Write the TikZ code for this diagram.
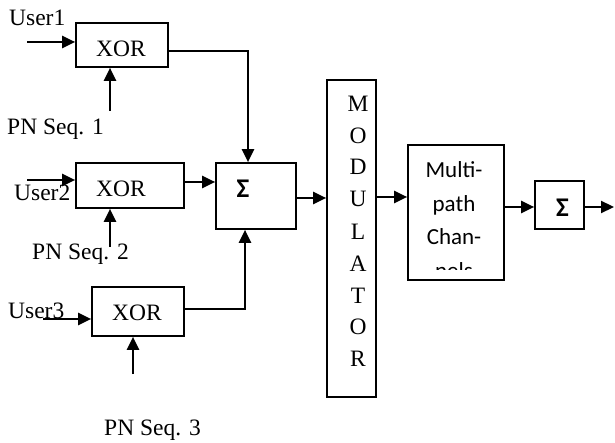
\documentclass[tikz,border=0pt]{standalone}
\usepackage{fontspec}
\setmainfont{Liberation Serif}
\newfontfamily\calibri{Carlito}
\usetikzlibrary{arrows.meta}
\begin{document}
\begin{tikzpicture}[x=1pt,y=-1pt,
  box/.style={draw,line width=1.7pt,inner sep=0pt,anchor=center},
  arr/.style={line width=2.2pt,-{Triangle[length=13pt,width=12pt]}},
  txt/.style={inner sep=0pt,anchor=base west,font=\fontsize{23.5}{28}\selectfont},
  ctxt/.style={inner sep=0pt,anchor=base,font=\calibri\fontsize{23}{28}\selectfont},
  sig/.style={inner sep=0pt,anchor=base,font=\calibri\bfseries\fontsize{27}{30}\selectfont},
  mtxt/.style={inner sep=0pt,anchor=base,font=\fontsize{23.5}{28}\selectfont}]
\useasboundingbox (0,0) rectangle (615,443);
% boxes
\node[box,minimum width=92pt,minimum height=44pt] (x1) at (122,45) {};
\node[box,minimum width=108pt,minimum height=45pt] (x2) at (130,185.5) {};
\node[box,minimum width=92pt,minimum height=49pt] (x3) at (138,311.5) {};
\node[box,minimum width=80pt,minimum height=66pt] (s1) at (256,196) {};
\node[box,minimum width=49pt,minimum height=317pt] (mod) at (351.5,238.5) {};
\node[box,minimum width=96pt,minimum height=135pt] (mp) at (456,212.5) {};
\node[box,minimum width=49pt,minimum height=48pt] (s2) at (559.5,205) {};
% texts
\node[txt] (tu1) at (9,26) {User1};
\node[txt] (tx1) at (96,56.5) {XOR};
\node[txt] (tp1) at (7,135) {PN Seq. 1};
\node[txt] (tu2) at (14,201) {User2};
\node[txt] (tx2) at (96,197) {XOR};
\node[txt] (tp2) at (32,260) {PN Seq. 2};
\node[txt] (tu3) at (8,318) {User3};
\node[txt] (tx3) at (112,320) {XOR};
\node[txt] (tp3) at (104,435) {PN Seq. 3};
\node[sig] (ts1) at (243,198) {Σ};
\node[sig] (ts2) at (562.5,217) {Σ};
\node[mtxt] (m1) at (358,112) {M};
\node[mtxt] (m2) at (358,143.5) {O};
\node[mtxt] (m3) at (358,175) {D};
\node[mtxt] (m4) at (358,207) {U};
\node[mtxt] (m5) at (358,240) {L};
\node[mtxt] (m6) at (358,272) {A};
\node[mtxt] (m7) at (358,303) {T};
\node[mtxt] (m8) at (358,334) {O};
\node[mtxt] (m9) at (358,366) {R};
\node[ctxt] (c1) at (454,178) {Multi-};
\node[ctxt] (c2) at (454,212) {path};
\node[ctxt] (c3) at (454,245) {Chan-};
\begin{scope}
\clip (409,146) rectangle (503,270);
\node[ctxt] (c4) at (454,279) {nels};
\end{scope}
% free ends
\coordinate (u1) at (27,42);
\coordinate (p1) at (110,111);
\coordinate (j1) at (248,51);
\coordinate (u2) at (27,180);
\coordinate (p2) at (110,247);
\coordinate (k2) at (200,182);
\coordinate (u3) at (43,319);
\coordinate (p3) at (133,374);
\coordinate (j3) at (245,309);
\coordinate (k4) at (310,198);
\coordinate (k5) at (390,197);
\coordinate (k6) at (520,207);
\coordinate (out) at (614,207);
% connectors
\draw[arr] (u1) -- (u1 -| x1.west);
\draw[arr] (p1) -- (p1 |- x1.south);
\draw[arr] (x1.east |- j1) -- (j1) -- (j1 |- s1.north);
\draw[arr] (u2) -- (u2 -| x2.west);
\draw[arr] (p2) -- (p2 |- x2.south);
\draw[arr] (x2.east |- k2) -- (k2 -| s1.west);
\draw[arr] (u3) -- (u3 -| x3.west);
\draw[arr] (p3) -- (p3 |- x3.south);
\draw[arr] (x3.east |- j3) -- (j3) -- (j3 |- s1.south);
\draw[arr] (s1.east |- k4) -- (k4 -| mod.west);
\draw[arr] (mod.east |- k5) -- (k5 -| mp.west);
\draw[arr] (mp.east |- k6) -- (k6 -| s2.west);
\draw[arr] (s2.east |- out) -- (out);
\end{tikzpicture}
\end{document}
